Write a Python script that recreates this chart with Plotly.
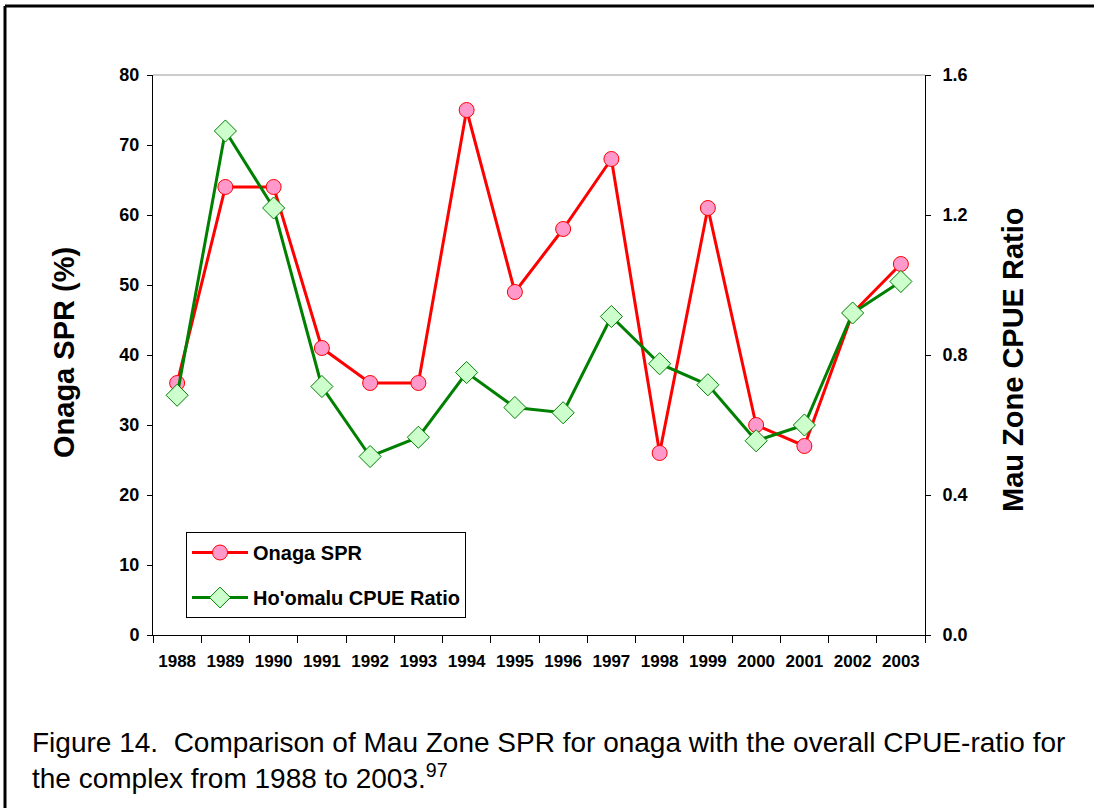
import plotly.graph_objects as go

years = [str(y) for y in range(1988, 2004)]
onaga_spr = [36, 64, 64, 41, 36, 36, 75, 49, 58, 68, 26, 61, 30, 27, 46, 53]
cpue_ratio = [0.685, 1.44, 1.22, 0.71, 0.51, 0.565, 0.75, 0.65, 0.635, 0.91,
              0.775, 0.715, 0.555, 0.60, 0.92, 1.01]

W, H = 1099, 808
L, R, T, B = 153, 174, 75, 173
pw, ph = W - L - R, H - T - B


def px(x):
    return (x - L) / pw


def py(y):
    return (H - B - y) / ph


FONT = "Liberation Sans, Arial, sans-serif"

fig = go.Figure()
fig.add_trace(go.Scatter(
    x=years, y=onaga_spr, name="Onaga SPR", mode="lines+markers",
    line=dict(color="#FF0000", width=3),
    marker=dict(symbol="circle", size=15, color="#FF99CC",
                line=dict(color="#FF0000", width=1)),
    legendgroup="a",
))
fig.add_trace(go.Scatter(
    x=years, y=cpue_ratio, name="Ho'omalu CPUE Ratio", mode="lines+markers",
    yaxis="y2",
    line=dict(color="#008000", width=3),
    marker=dict(symbol="diamond", size=17, color="#CCFFCC",
                line=dict(color="#008000", width=1)),
    legendgroup="b",
))

fig.update_layout(
    width=W, height=H,
    margin=dict(l=L, r=R, t=T, b=B),
    paper_bgcolor="white", plot_bgcolor="white",
    font=dict(family=FONT, color="black"),
    showlegend=True,
    legend=dict(
        x=px(186), y=py(532), xanchor="left", yanchor="top",
        bordercolor="black", borderwidth=1, bgcolor="white",
        font=dict(family=FONT, size=20, color="black", weight="bold"),
        traceorder="grouped", tracegroupgap=16,
        itemwidth=56,
    ),
    xaxis=dict(
        type="category", categoryorder="array", categoryarray=years,
        range=[-0.5, 15.5], tickson="boundaries", ticks="outside",
        ticklen=7, tickcolor="black", showline=True, linecolor="black",
        linewidth=1, showgrid=False, zeroline=False, ticklabelstandoff=11,
        tickfont=dict(family=FONT, size=17, color="black", weight="bold"),
    ),
    yaxis=dict(
        range=[0, 80], dtick=10, ticks="outside", ticklen=5,
        tickcolor="black", showline=True, linecolor="black", linewidth=1,
        showgrid=False, zeroline=False, ticklabelstandoff=4,
        tickfont=dict(family=FONT, size=18, color="black", weight="bold"),
    ),
    yaxis2=dict(
        range=[0, 1.6], dtick=0.4, tickformat=".1f", overlaying="y",
        side="right", ticks="outside", ticklen=5, tickcolor="black",
        showline=True, linecolor="black", linewidth=1, showgrid=False,
        zeroline=False, ticklabelstandoff=8,
        tickfont=dict(family=FONT, size=18, color="black", weight="bold"),
    ),
    shapes=[
        # grey top edge of the plot area
        dict(type="line", xref="paper", yref="paper", x0=0, x1=1, y0=1, y1=1,
             line=dict(color="#999999", width=1)),
        # outer frame (top and left)
        dict(type="line", xref="paper", yref="paper", x0=px(5), x1=px(1094),
             y0=py(6), y1=py(6), line=dict(color="black", width=3)),
        dict(type="line", xref="paper", yref="paper", x0=px(5), x1=px(5),
             y0=py(6), y1=py(812), line=dict(color="black", width=3)),
    ],
    annotations=[
        dict(text="<b>Onaga SPR (%)</b>", xref="paper", yref="paper",
             x=px(64), y=py(353), xanchor="center", yanchor="middle",
             textangle=-90, showarrow=False,
             font=dict(family=FONT, size=29, color="black")),
        dict(text="<b>Mau Zone CPUE Ratio</b>", xref="paper", yref="paper",
             x=px(1013), y=py(360), xanchor="center", yanchor="middle",
             textangle=-90, showarrow=False,
             font=dict(family=FONT, size=29, color="black")),
        dict(text="Figure 14.  Comparison of Mau Zone SPR for onaga with the overall CPUE-ratio for"
                  "<br>the complex from 1988 to 2003.<sup>97</sup>",
             xref="paper", yref="paper", x=px(30), y=py(760),
             xanchor="left", yanchor="middle", align="left", showarrow=False,
             font=dict(family=FONT, size=28, color="black")),
    ],
)

fig.write_html("out.html", config={"displayModeBar": False},
               post_script="document.body.style.margin='0';")
